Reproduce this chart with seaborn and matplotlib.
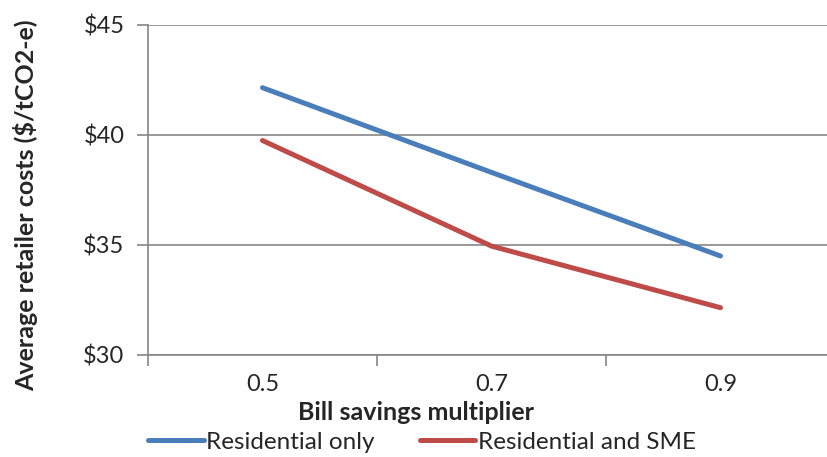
import pandas as pd
import matplotlib
matplotlib.use('Agg')
import matplotlib.pyplot as plt
import seaborn as sns

multipliers = ['0.5', '0.7', '0.9']
residential_only = [42.15, 38.3, 34.5]
residential_sme = [39.75, 34.95, 32.15]

df = pd.DataFrame({
    'multiplier': multipliers * 2,
    'cost': residential_only + residential_sme,
    'series': ['Residential only'] * 3 + ['Residential and SME'] * 3,
})

sns.set_style('white')
plt.rcParams['font.family'] = ['Lato', 'DejaVu Sans']

fig = plt.figure(figsize=(8.27, 4.57), dpi=100)
ax = fig.add_axes([148 / 827, 1 - 355 / 457, (835 - 148) / 827, 330 / 457])

palette = {'Residential only': '#4A7EBB', 'Residential and SME': '#BE4B48'}
sns.lineplot(data=df, x='multiplier', y='cost', hue='series', palette=palette,
             linewidth=3.6, solid_capstyle='round', ax=ax, legend=False, sort=False)

ax.set_ylim(30, 45)
ax.set_yticks([30, 35, 40, 45])
ax.set_yticklabels(['$30', '$35', '$40', '$45'])
ax.set_xlim(-0.5, 2.5)
ax.set_xticks(range(len(multipliers)))
ax.set_xticklabels(multipliers)
ax.set_xticks([-0.5, 0.5, 1.5], minor=True)

grid_c = '#868686'
ax.yaxis.grid(True, color=grid_c, linewidth=1.2)
ax.set_axisbelow(True)
for s in ['top', 'right']:
    ax.spines[s].set_visible(False)
for s in ['left', 'bottom']:
    ax.spines[s].set_color(grid_c)
    ax.spines[s].set_linewidth(1.2)

ax.tick_params(axis='y', which='major', length=8, width=1.2, color=grid_c,
               labelsize=17, pad=9, left=True)
ax.tick_params(axis='x', which='major', length=0, labelsize=17, pad=14)
ax.tick_params(axis='x', which='minor', length=8, width=1.2, color=grid_c,
               bottom=True, direction='out')

# the x title sits left of centre in the original
ax.set_xlabel('Bill savings multiplier', fontsize=18, fontweight='bold')
ax.xaxis.set_label_coords(0.39, -0.14)
ax.set_ylabel('Average retailer costs ($/tCO2-e)', fontsize=18, fontweight='bold')
ax.yaxis.set_label_coords(-0.16, 0.455)

handles = [plt.Line2D([], [], color=palette[k], linewidth=3.6, solid_capstyle='round')
           for k in ['Residential only', 'Residential and SME']]
fig.legend(handles, ['Residential only', 'Residential and SME'], loc='center left',
           bbox_to_anchor=(138 / 827, 1 - 442 / 457), ncol=2, frameon=False,
           fontsize=17.5, handlelength=2.3, handletextpad=0.1, columnspacing=1.85,
           borderaxespad=0)

fig.savefig('out.png', dpi=100)
